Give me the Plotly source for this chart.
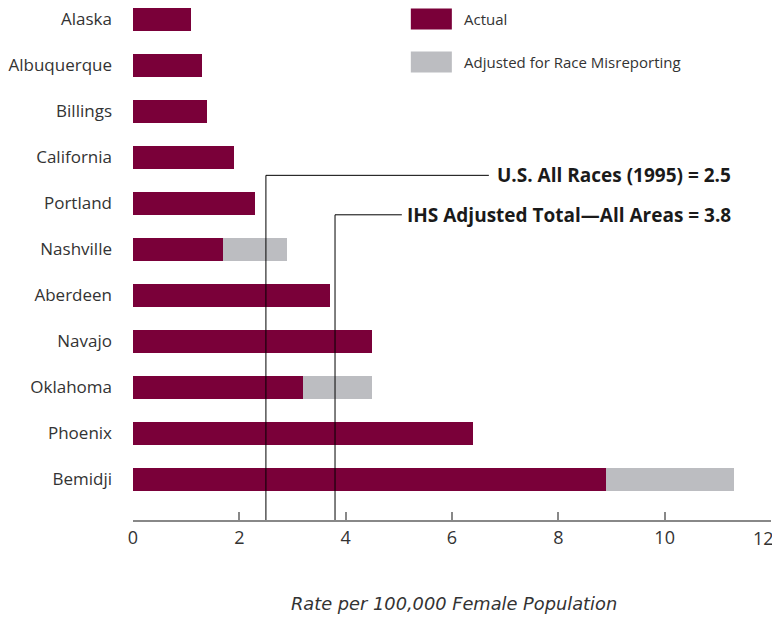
import plotly.graph_objects as go

areas = ["Alaska", "Albuquerque", "Billings", "California", "Portland", "Nashville",
         "Aberdeen", "Navajo", "Oklahoma", "Phoenix", "Bemidji"]
actual = [1.1, 1.3, 1.4, 1.9, 2.3, 1.7, 3.7, 4.5, 3.2, 6.4, 8.9]
adjusted = [1.1, 1.3, 1.4, 1.9, 2.3, 2.9, 3.7, 4.5, 4.5, 6.4, 11.3]
extra = [round(a - b, 2) for a, b in zip(adjusted, actual)]

us_all_races = 2.5
ihs_total = 3.8
x_ticks = [0, 2, 4, 6, 8, 10, 12]
# last tick label is drawn as an annotation so it is not clipped at the page edge
x_ticktext = [str(v) for v in x_ticks[:-1]] + [""]

MAROON = "#7A0039"
GRAY = "#BCBDC1"
FONT = "Open Sans"

# page body has an 8px default margin; compensate (and avoid page overflow)
OFF = 8
W, H = 780 - OFF, 623 - 2 * OFF
L, R, T = 133.3 - OFF, 9, 0
AXIS_PAGE_Y = 520.5
B = H - (AXIS_PAGE_Y - OFF)
ph = H - T - B
pw = W - L - R

def py(pix):
    return (H - B - (pix - OFF)) / ph

def px(pix):
    return (pix - OFF - L) / pw

fig = go.Figure()
fig.add_trace(go.Bar(y=areas, x=actual, orientation="h", marker_color=MAROON,
                     marker_line_width=0, width=0.5, name="Actual"))
fig.add_trace(go.Bar(y=areas, x=extra, orientation="h", marker_color=GRAY,
                     marker_line_width=0, width=0.5, name="Adjusted for Race Misreporting"))

# reference lines
for val, ypix, xend_pix, label in [
    (us_all_races, 175.5, 489, "U.S. All Races (1995) = 2.5"),
    (ihs_total, 215, 402, "IHS Adjusted Total\u2014All Areas = 3.8"),
]:
    fig.add_shape(type="line", xref="x", yref="paper", x0=val, x1=val, y0=0, y1=py(ypix),
                  line=dict(color="#000000", width=1))
    fig.add_shape(type="line", xref="x", yref="paper", x0=val, x1=px(xend_pix) * 12,
                  y0=py(ypix), y1=py(ypix), line=dict(color="#000000", width=1))
    fig.add_annotation(xref="paper", yref="paper", x=px(733), y=py(ypix),
                       xanchor="right", yanchor="middle", showarrow=False,
                       text="<b>" + label + "</b>",
                       font=dict(family=FONT, size=19, color="#1a1a1a"))

# legend
for i, (col, txt) in enumerate([(MAROON, "Actual"), (GRAY, "Adjusted for Race Misreporting")]):
    yc = 19 + i * 43
    fig.add_shape(type="rect", xref="paper", yref="paper",
                  x0=px(411), x1=px(452), y0=py(yc + 10.5), y1=py(yc - 10.5),
                  fillcolor=col, line_width=0)
    fig.add_annotation(xref="paper", yref="paper", x=px(462), y=py(yc),
                       xanchor="left", yanchor="middle", showarrow=False, text=txt,
                       font=dict(family=FONT, size=15, color="#333333"))

# last x tick label
fig.add_annotation(xref="paper", yref="paper", x=px(776), y=py(539), xanchor="right",
                   yanchor="middle", showarrow=False, text=str(x_ticks[-1]),
                   font=dict(family=FONT, size=18, color="#333333"))

fig.add_annotation(xref="paper", yref="paper", x=px(454), y=py(604), xanchor="center",
                   yanchor="middle", showarrow=False,
                   text="<i>Rate per 100,000 Female Population</i>",
                   font=dict(family="DejaVu Sans", size=17.8, color="#333333"))

fig.update_layout(
    width=W, height=H, barmode="stack", showlegend=False,
    margin=dict(l=L, r=R, t=T, b=B),
    plot_bgcolor="white", paper_bgcolor="white",
    xaxis=dict(range=[0, 12], tickvals=x_ticks, ticktext=x_ticktext,
               ticks="inside", ticklen=8, tickwidth=1.5,
               tickcolor="#888888", showline=True, linecolor="#888888", linewidth=2,
               showgrid=False, zeroline=False, ticklabelstandoff=0, automargin=False,
               ticklabeloverflow="allow",
               tickfont=dict(family=FONT, size=18, color="#333333")),
    yaxis=dict(categoryorder="array", categoryarray=areas, automargin=False,
               ticklabeloverflow="allow",
               range=[10 + (AXIS_PAGE_Y - 479.5) / 46, -(19.5 - OFF) / 46],
               showgrid=False, zeroline=False,
               showline=False, ticks="", ticklabelstandoff=20,
               tickfont=dict(family=FONT, size=17, color="#333333")),
)

fig.write_html("out.html")
